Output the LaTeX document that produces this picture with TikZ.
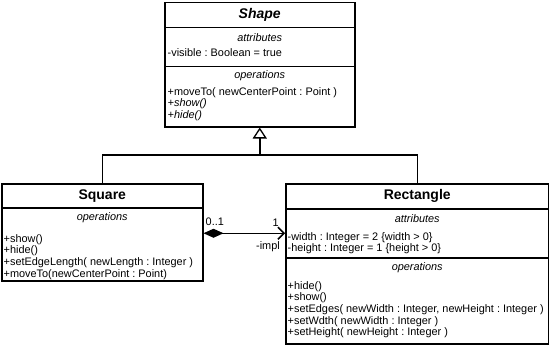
\documentclass[tikz,border=0pt]{standalone}
\usepackage{fontspec}
\setmainfont{Liberation Sans}
\frenchspacing
\usetikzlibrary{arrows.meta,positioning}

\begin{document}
\begin{tikzpicture}[
  x=1pt, y=-1pt,
  every node/.style={font=\fontsize{10.9}{11.7}\selectfont},
  part/.style={draw, line width=1.5pt, anchor=north west, inner sep=0pt},
  title/.style={font=\fontsize{14}{16}\selectfont\bfseries},
  head/.style={font=\fontsize{10.9}{11.7}\selectfont\itshape, inner sep=0pt},
  items/.style={align=left, inner sep=0pt, anchor=north west},
  link/.style={line width=1.5pt}
]
  \useasboundingbox (0,0) rectangle (549,345);

  % Shape
  \node[part, title, minimum width=190pt, minimum height=25pt] (shapeT) at (164,2) {\itshape Shape};
  \node[part, minimum width=190pt, minimum height=39pt] (shapeA) at (164,27) {};
  \node[part, minimum width=190pt, minimum height=60pt] (shapeO) at (164,66) {};
  \node[head] (shapeAh) at ([yshift=-11pt]shapeA.north) {attributes};
  \node[items] (shapeAi) at ([xshift=3.5pt, yshift=-21pt]shapeA.north west) {-visible : Boolean = true};
  \node[head] (shapeOh) at ([yshift=-10pt]shapeO.north) {operations};
  \node[items] (shapeOi) at ([xshift=3.5pt, yshift=-21pt]shapeO.north west)
    {+moveTo( newCenterPoint : Point )\\ \textit{+show()}\\ \textit{+hide()}};

  % Square
  \node[part, title, minimum width=201pt, minimum height=24pt] (squareT) at (1,183) {Square};
  \node[part, minimum width=201pt, minimum height=73pt] (squareO) at (1,207) {};
  \node[head] (squareOh) at ([yshift=-11pt]squareO.north) {operations};
  \node[items] (squareOi) at ([xshift=2.5pt, yshift=-27pt]squareO.north west)
    {+show()\\ +hide()\\ +setEdgeLength( newLength : Integer )\\ +moveTo(newCenterPoint : Point)};

  % Rectangle
  \node[part, title, minimum width=263pt, minimum height=25pt] (rectT) at (285,183) {Rectangle};
  \node[part, minimum width=263pt, minimum height=49pt] (rectA) at (285,208) {};
  \node[part, minimum width=263pt, minimum height=86pt] (rectO) at (285,257) {};
  \node[head] (rectAh) at ([yshift=-11pt]rectA.north) {attributes};
  \node[items] (rectAi) at ([xshift=2.5pt, yshift=-24pt]rectA.north west)
    {-width : Integer = 2 \{width > 0\}\\ -height : Integer = 1 \{height > 0\}};
  \node[head] (rectOh) at ([yshift=-11pt]rectO.north) {operations};
  \node[items] (rectOi) at ([xshift=2.5pt, yshift=-24pt]rectO.north west)
    {+hide()\\ +show()\\ +setEdges( newWidth : Integer, newHeight : Integer )\\
     +setWdth( newWidth : Integer )\\ +setHeight( newHeight : Integer )};

  % generalization
  \coordinate (gen) at (shapeO.south |- 0,155);
  \draw[link] (squareT.north) |- (gen) -| (rectT.north);
  \draw[link, -{Triangle[open, width=14pt, length=11pt, line width=1.3pt]}] (gen) -- (shapeO.south);

  % composition
  \coordinate (comp) at (squareO.east |- rectA.west);
  \draw[link, {Diamond[length=20pt, width=9pt]}-{Straight Barb[length=6pt, width=12pt]}] (comp) -- (rectA.west);
  \node[anchor=south west, inner sep=1pt] (compM) at ([xshift=1pt, yshift=6pt]comp) {0..1};
  \node[anchor=south east, inner sep=1pt] (compN) at ([xshift=-5pt, yshift=6pt]rectA.west) {1};
  \node[anchor=north east, inner sep=1pt] (compR) at ([xshift=-4pt, yshift=-7pt]rectA.west) {-impl};
\end{tikzpicture}
\end{document}
